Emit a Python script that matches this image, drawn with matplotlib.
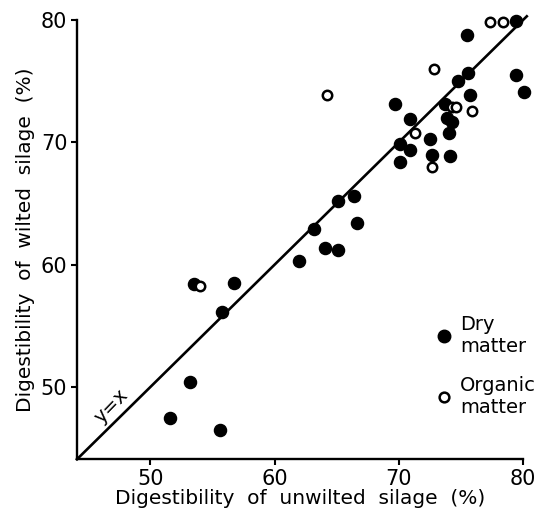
import matplotlib.pyplot as plt
from matplotlib.lines import Line2D

# Dry matter digestibility (unwilted, wilted) %
dry_unwilted = [79.4, 75.5, 75.6, 74.8, 79.4, 80.1, 75.7, 69.7, 73.7, 70.9,
                73.9, 74.3, 74.0, 72.5, 70.1, 70.9, 72.7, 74.1, 70.1, 66.4,
                65.1, 66.6, 63.2, 64.1, 65.1, 62.0, 53.5, 56.7, 55.8, 53.2,
                51.6, 55.6]
dry_wilted = [79.9, 78.8, 75.7, 75.0, 75.5, 74.1, 73.9, 73.1, 73.1, 71.9,
              72.0, 71.7, 70.8, 70.3, 69.9, 69.4, 69.0, 68.9, 68.4, 65.6,
              65.2, 63.4, 62.9, 61.4, 61.2, 60.3, 58.4, 58.5, 56.1, 50.4,
              47.5, 46.5]

# Organic matter digestibility (unwilted, wilted) %
org_unwilted = [77.3, 78.4, 72.8, 64.2, 74.3, 74.6, 75.9, 71.3, 72.7, 54.0]
org_wilted = [79.8, 79.8, 76.0, 73.9, 72.9, 72.9, 72.6, 70.8, 68.0, 58.3]

ticks = [50, 60, 70, 80]

fig = plt.figure(figsize=(5.46, 5.12), dpi=100)
ax = fig.add_axes([0.141, 0.103, 0.817, 0.858])

# line of equality
ax.plot([44.1, 80.3], [44.1, 80.3], color="black", lw=1.9, clip_on=False)
ax.text(46.9, 48.4, "y=x", rotation=46, fontsize=14, ha="center", va="center")

ax.scatter(dry_unwilted, dry_wilted, s=76, color="black", clip_on=False, zorder=3)
ax.scatter(org_unwilted, org_wilted, s=46, facecolor="white", edgecolor="black",
           linewidth=1.8, clip_on=False, zorder=4)

ax.set_xlim(44.1, 80)
ax.set_ylim(44.1, 80)
ax.set_xticks(ticks)
ax.set_yticks(ticks)
ax.tick_params(direction="out", length=4, width=1.5, labelsize=15, pad=3)

for side in ["top", "right"]:
    ax.spines[side].set_visible(False)
for side in ["left", "bottom"]:
    ax.spines[side].set_linewidth(1.7)

ax.set_xlabel("Digestibility  of  unwilted  silage  (%)", fontsize=14.5, labelpad=0)
ax.set_ylabel("Digestibility  of  wilted  silage  (%)", fontsize=14.5, labelpad=4)

handles = [
    Line2D([], [], ls="none", marker="o", ms=9, color="black"),
    Line2D([], [], ls="none", marker="o", ms=7, mfc="white", mec="black", mew=1.8),
]
ax.legend(handles, ["Dry\nmatter", "Organic\nmatter"], loc="upper left",
          bbox_to_anchor=(0.78, 0.35), frameon=False, fontsize=14,
          borderpad=0, handletextpad=0.3, labelspacing=1.0, handlelength=1.0)

fig.savefig("out.png", dpi=100)
